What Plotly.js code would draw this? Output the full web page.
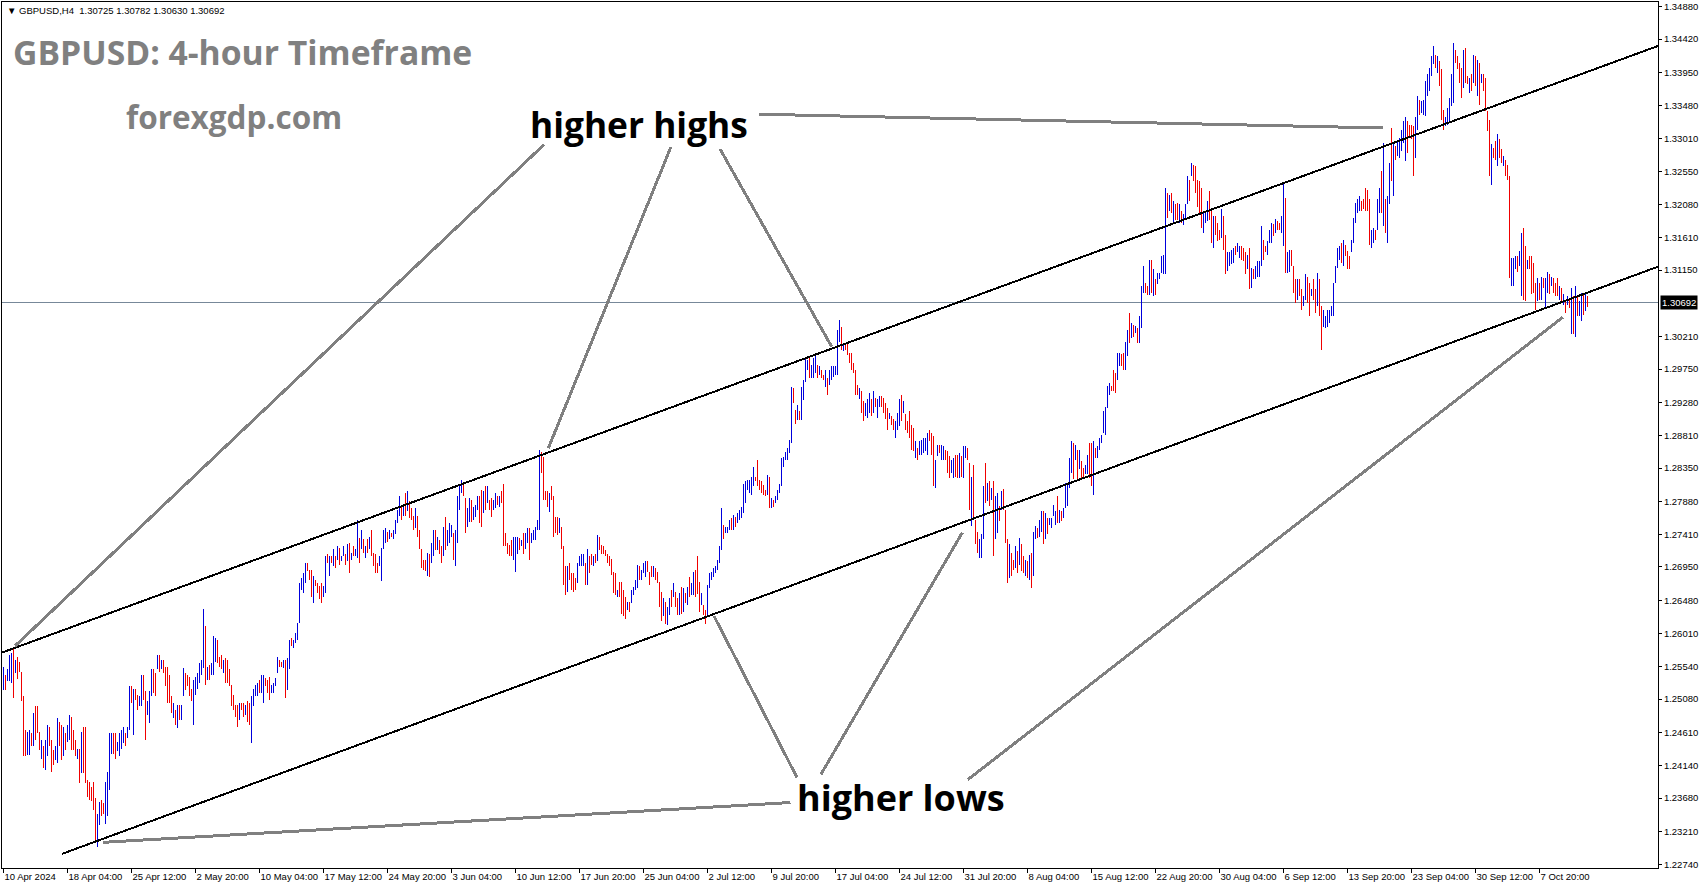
<!DOCTYPE html>
<html><head><meta charset="utf-8">
<script src="https://cdn.plot.ly/plotly-3.0.1.min.js"></script>
<style>
html,body{margin:0;padding:0;background:#fff;overflow:hidden}
#chart{width:1705px;height:888px}
#chart .ohlc path, #chart .shapelayer path{shape-rendering:crispEdges}
</style>
</head><body><div id="chart"></div>
<script>
// ---- data (GBPUSD H4, 10 Apr 2024 20:00 .. 11 Oct 2024 20:00) ----
const symbolInfo = "GBPUSD,H4";
const lastQuote = [1.30725, 1.30782, 1.30630, 1.30692]; // O H L C of the last bar
const firstOpen = 1.2530;

const high = [
1.2554,1.2542,1.2550,1.2571,1.2573,1.2579,1.2564,1.2568,1.2560,1.2546,
1.2512,1.2464,1.2462,1.2464,1.2460,1.2488,1.2498,1.2498,1.2462,1.2450,
1.2441,1.2450,1.2471,1.2469,1.2450,1.2436,1.2441,1.2481,1.2476,1.2471,
1.2469,1.2460,1.2471,1.2486,1.2483,1.2464,1.2450,1.2438,1.2438,1.2462,
1.2469,1.2469,1.2394,1.2391,1.2384,1.2391,1.2368,1.2346,1.2363,1.2365,
1.2361,1.2391,1.2405,1.2460,1.2460,1.2460,1.2460,1.2448,1.2460,1.2464,
1.2469,1.2460,1.2469,1.2526,1.2526,1.2523,1.2523,1.2514,1.2512,1.2542,
1.2542,1.2519,1.2505,1.2519,1.2550,1.2550,1.2545,1.2571,1.2571,1.2564,
1.2564,1.2554,1.2554,1.2542,1.2512,1.2502,1.2493,1.2500,1.2500,1.2500,
1.2552,1.2545,1.2542,1.2540,1.2523,1.2535,1.2540,1.2545,1.2559,1.2564,
1.2636,1.2611,1.2554,1.2557,1.2559,1.2597,1.2594,1.2592,1.2568,1.2571,
1.2564,1.2566,1.2564,1.2550,1.2528,1.2514,1.2500,1.2500,1.2502,1.2502,
1.2502,1.2500,1.2505,1.2502,1.2512,1.2523,1.2528,1.2531,1.2535,1.2542,
1.2542,1.2538,1.2535,1.2540,1.2528,1.2531,1.2538,1.2568,1.2564,1.2561,
1.2564,1.2564,1.2566,1.2592,1.2594,1.2592,1.2602,1.2616,1.2672,1.2680,
1.2687,1.2701,1.2701,1.2691,1.2691,1.2682,1.2677,1.2672,1.2668,1.2672,
1.2668,1.2710,1.2713,1.2710,1.2710,1.2720,1.2710,1.2724,1.2722,1.2710,
1.2724,1.2713,1.2727,1.2729,1.2715,1.2724,1.2720,1.2762,1.2736,1.2748,
1.2734,1.2724,1.2734,1.2738,1.2748,1.2715,1.2713,1.2701,1.2710,1.2722,
1.2748,1.2750,1.2745,1.2748,1.2743,1.2748,1.2762,1.2776,1.2795,1.2781,
1.2783,1.2800,1.2802,1.2788,1.2779,1.2767,1.2779,1.2767,1.2748,1.2720,
1.2705,1.2705,1.2715,1.2714,1.2729,1.2747,1.2747,1.2738,1.2733,1.2724,
1.2752,1.2766,1.2747,1.2757,1.2754,1.2743,1.2747,1.2795,1.2811,1.2818,
1.2811,1.2792,1.2778,1.2792,1.2790,1.2780,1.2783,1.2795,1.2795,1.2804,
1.2802,1.2809,1.2809,1.2790,1.2792,1.2790,1.2799,1.2795,1.2795,1.2802,
1.2813,1.2743,1.2729,1.2726,1.2733,1.2738,1.2738,1.2738,1.2736,1.2733,
1.2743,1.2743,1.2750,1.2750,1.2743,1.2747,1.2752,1.2762,1.2861,1.2858,
1.2851,1.2802,1.2802,1.2799,1.2809,1.2795,1.2766,1.2766,1.2764,1.2752,
1.2724,1.2696,1.2696,1.2700,1.2686,1.2686,1.2679,1.2700,1.2710,1.2714,
1.2714,1.2700,1.2721,1.2710,1.2714,1.2710,1.2714,1.2740,1.2738,1.2726,
1.2724,1.2719,1.2714,1.2710,1.2707,1.2688,1.2686,1.2662,1.2674,1.2674,
1.2662,1.2653,1.2646,1.2646,1.2662,1.2667,1.2677,1.2698,1.2696,1.2691,
1.2700,1.2703,1.2703,1.2688,1.2696,1.2696,1.2693,1.2688,1.2674,1.2660,
1.2651,1.2646,1.2639,1.2651,1.2662,1.2672,1.2660,1.2651,1.2658,1.2667,
1.2665,1.2658,1.2667,1.2681,1.2672,1.2688,1.2691,1.2710,1.2674,1.2658,
1.2641,1.2634,1.2670,1.2686,1.2688,1.2693,1.2696,1.2705,1.2724,1.2778,
1.2754,1.2752,1.2752,1.2762,1.2764,1.2769,1.2766,1.2771,1.2776,1.2780,
1.2813,1.2816,1.2818,1.2818,1.2823,1.2837,1.2823,1.2847,1.2818,1.2816,
1.2811,1.2804,1.2825,1.2823,1.2792,1.2790,1.2795,1.2804,1.2813,1.2849,
1.2851,1.2858,1.2863,1.2875,1.2950,1.2948,1.2917,1.2924,1.2915,1.2950,
1.2960,1.2990,1.2988,1.2993,1.2981,1.2990,1.2993,1.2981,1.2979,1.2974,
1.2967,1.2974,1.2962,1.2974,1.2979,1.2979,1.2979,1.3031,1.3045,1.3035,
1.3012,1.3012,1.3012,1.2998,1.2998,1.2984,1.2974,1.2953,1.2948,1.2944,
1.2930,1.2927,1.2932,1.2941,1.2932,1.2944,1.2934,1.2932,1.2937,1.2937,
1.2934,1.2927,1.2920,1.2913,1.2908,1.2904,1.2901,1.2913,1.2932,1.2939,
1.2930,1.2911,1.2901,1.2915,1.2896,1.2892,1.2873,1.2863,1.2873,1.2875,
1.2878,1.2878,1.2885,1.2889,1.2885,1.2880,1.2847,1.2868,1.2868,1.2868,
1.2866,1.2861,1.2859,1.2852,1.2847,1.2849,1.2854,1.2854,1.2856,1.2852,
1.2866,1.2866,1.2863,1.2842,1.2823,1.2840,1.2762,1.2745,1.2734,1.2741,
1.2809,1.2842,1.2814,1.2816,1.2807,1.2816,1.2795,1.2800,1.2781,1.2802,
1.2805,1.2776,1.2734,1.2727,1.2715,1.2705,1.2724,1.2717,1.2736,1.2727,
1.2710,1.2705,1.2703,1.2712,1.2715,1.2745,1.2753,1.2750,1.2762,1.2774,
1.2774,1.2771,1.2764,1.2764,1.2764,1.2783,1.2774,1.2795,1.2776,1.2774,
1.2778,1.2814,1.2814,1.2849,1.2873,1.2870,1.2868,1.2861,1.2861,1.2845,
1.2835,1.2840,1.2854,1.2870,1.2870,1.2873,1.2863,1.2866,1.2878,1.2882,
1.2915,1.2922,1.2951,1.2955,1.2951,1.2974,1.2970,1.2998,1.2998,1.2996,
1.2998,1.3014,1.3031,1.3054,1.3040,1.3038,1.3036,1.3033,1.3050,1.3092,
1.3121,1.3097,1.3092,1.3130,1.3130,1.3116,1.3102,1.3111,1.3111,1.3135,
1.3137,1.3231,1.3224,1.3222,1.3224,1.3213,1.3208,1.3210,1.3208,1.3198,
1.3194,1.3208,1.3248,1.3243,1.3267,1.3264,1.3262,1.3243,1.3241,1.3231,
1.3196,1.3198,1.3213,1.3227,1.3198,1.3191,1.3191,1.3182,1.3172,1.3201,
1.3191,1.3165,1.3140,1.3140,1.3144,1.3147,1.3149,1.3154,1.3149,1.3149,
1.3147,1.3140,1.3137,1.3147,1.3118,1.3116,1.3121,1.3128,1.3128,1.3177,
1.3158,1.3149,1.3156,1.3172,1.3182,1.3180,1.3187,1.3184,1.3182,1.3191,
1.3238,1.3217,1.3140,1.3144,1.3144,1.3121,1.3102,1.3102,1.3102,1.3088,
1.3078,1.3109,1.3106,1.3097,1.3088,1.3102,1.3088,1.3111,1.3102,1.3064,
1.3059,1.3050,1.3059,1.3059,1.3064,1.3097,1.3121,1.3147,1.3149,1.3154,
1.3158,1.3151,1.3142,1.3135,1.3158,1.3189,1.3210,1.3215,1.3220,1.3213,
1.3215,1.3231,1.3229,1.3215,1.3172,1.3175,1.3172,1.3215,1.3231,1.3255,
1.3295,1.3215,1.3220,1.3267,1.3316,1.3295,1.3290,1.3298,1.3302,1.3314,
1.3326,1.3331,1.3326,1.3321,1.3321,1.3319,1.3331,1.3361,1.3356,1.3354,
1.3356,1.3382,1.3392,1.3401,1.3418,1.3432,1.3420,1.3418,1.3411,1.3399,
1.3342,1.3331,1.3345,1.3359,1.3392,1.3437,1.3427,1.3418,1.3408,1.3401,
1.3427,1.3430,1.3389,1.3387,1.3392,1.3420,1.3418,1.3413,1.3408,1.3392,
1.3392,1.3387,1.3340,1.3328,1.3293,1.3288,1.3298,1.3307,1.3300,1.3286,
1.3276,1.3271,1.3264,1.3248,1.3132,1.3132,1.3135,1.3135,1.3142,1.3168,
1.3175,1.3149,1.3130,1.3135,1.3135,1.3125,1.3097,1.3104,1.3097,1.3106,
1.3104,1.3104,1.3113,1.3109,1.3106,1.3104,1.3097,1.3104,1.3092,1.3090,
1.3081,1.3073,1.3078,1.3073,1.3090,1.3078,1.3092,1.3078,1.3071,1.3083,
1.3081,1.3083,1.3078];

const low = [
1.2521,1.2521,1.2533,1.2533,1.2531,1.2509,1.2545,1.2536,1.2546,1.2505,
1.2427,1.2427,1.2429,1.2429,1.2441,1.2441,1.2450,1.2460,1.2436,1.2424,
1.2410,1.2408,1.2427,1.2441,1.2405,1.2415,1.2422,1.2417,1.2441,1.2422,
1.2427,1.2436,1.2448,1.2450,1.2436,1.2436,1.2427,1.2424,1.2389,1.2403,
1.2403,1.2389,1.2370,1.2365,1.2364,1.2351,1.2309,1.2299,1.2330,1.2342,
1.2346,1.2332,1.2342,1.2379,1.2431,1.2431,1.2424,1.2434,1.2427,1.2438,
1.2446,1.2441,1.2453,1.2464,1.2502,1.2457,1.2507,1.2493,1.2498,1.2498,
1.2507,1.2450,1.2486,1.2474,1.2512,1.2516,1.2512,1.2550,1.2547,1.2550,
1.2545,1.2526,1.2502,1.2502,1.2488,1.2481,1.2471,1.2467,1.2479,1.2479,
1.2512,1.2521,1.2526,1.2512,1.2505,1.2471,1.2514,1.2523,1.2531,1.2542,
1.2552,1.2528,1.2535,1.2535,1.2542,1.2542,1.2561,1.2559,1.2554,1.2550,
1.2545,1.2531,1.2531,1.2526,1.2498,1.2493,1.2483,1.2469,1.2479,1.2493,
1.2483,1.2486,1.2476,1.2471,1.2446,1.2498,1.2512,1.2512,1.2516,1.2516,
1.2502,1.2526,1.2516,1.2507,1.2516,1.2516,1.2526,1.2545,1.2554,1.2554,
1.2552,1.2509,1.2521,1.2550,1.2583,1.2580,1.2587,1.2592,1.2616,1.2663,
1.2658,1.2672,1.2689,1.2677,1.2653,1.2644,1.2668,1.2658,1.2649,1.2644,
1.2653,1.2658,1.2701,1.2682,1.2701,1.2696,1.2694,1.2705,1.2698,1.2703,
1.2710,1.2698,1.2703,1.2687,1.2705,1.2710,1.2710,1.2708,1.2701,1.2720,
1.2715,1.2708,1.2715,1.2720,1.2710,1.2696,1.2687,1.2687,1.2696,1.2675,
1.2720,1.2729,1.2731,1.2734,1.2738,1.2734,1.2741,1.2757,1.2767,1.2762,
1.2767,1.2767,1.2774,1.2764,1.2762,1.2748,1.2750,1.2738,1.2720,1.2694,
1.2691,1.2689,1.2682,1.2681,1.2700,1.2710,1.2719,1.2719,1.2714,1.2700,
1.2710,1.2719,1.2724,1.2729,1.2738,1.2705,1.2696,1.2729,1.2776,1.2799,
1.2795,1.2743,1.2752,1.2759,1.2759,1.2762,1.2766,1.2776,1.2757,1.2752,
1.2771,1.2776,1.2785,1.2776,1.2766,1.2776,1.2778,1.2783,1.2780,1.2785,
1.2724,1.2724,1.2714,1.2710,1.2710,1.2705,1.2688,1.2714,1.2719,1.2724,
1.2714,1.2721,1.2729,1.2705,1.2729,1.2733,1.2733,1.2747,1.2747,1.2828,
1.2790,1.2790,1.2780,1.2773,1.2790,1.2738,1.2743,1.2740,1.2743,1.2721,
1.2670,1.2655,1.2660,1.2677,1.2662,1.2660,1.2662,1.2672,1.2696,1.2696,
1.2696,1.2670,1.2670,1.2686,1.2698,1.2696,1.2700,1.2703,1.2719,1.2714,
1.2714,1.2710,1.2700,1.2696,1.2684,1.2658,1.2655,1.2653,1.2653,1.2629,
1.2625,1.2622,1.2634,1.2632,1.2644,1.2655,1.2662,1.2665,1.2677,1.2677,
1.2686,1.2681,1.2688,1.2670,1.2681,1.2681,1.2677,1.2672,1.2639,1.2618,
1.2625,1.2615,1.2613,1.2627,1.2639,1.2653,1.2639,1.2627,1.2627,1.2629,
1.2632,1.2644,1.2641,1.2653,1.2655,1.2655,1.2653,1.2657,1.2632,1.2641,
1.2627,1.2615,1.2625,1.2665,1.2677,1.2681,1.2686,1.2691,1.2700,1.2719,
1.2735,1.2743,1.2743,1.2747,1.2747,1.2747,1.2752,1.2757,1.2762,1.2764,
1.2771,1.2785,1.2804,1.2799,1.2797,1.2809,1.2816,1.2809,1.2804,1.2799,
1.2797,1.2795,1.2797,1.2778,1.2778,1.2780,1.2785,1.2790,1.2799,1.2809,
1.2837,1.2847,1.2847,1.2856,1.2870,1.2927,1.2898,1.2903,1.2903,1.2903,
1.2931,1.2957,1.2974,1.2962,1.2962,1.2962,1.2969,1.2962,1.2967,1.2962,
1.2960,1.2950,1.2939,1.2953,1.2960,1.2964,1.2967,1.2967,1.3014,1.3002,
1.3000,1.3002,1.2995,1.2983,1.2974,1.2970,1.2939,1.2939,1.2932,1.2913,
1.2901,1.2908,1.2906,1.2913,1.2908,1.2913,1.2922,1.2906,1.2922,1.2922,
1.2913,1.2904,1.2889,1.2904,1.2896,1.2889,1.2878,1.2889,1.2894,1.2901,
1.2913,1.2889,1.2885,1.2878,1.2861,1.2859,1.2849,1.2847,1.2854,1.2854,
1.2856,1.2859,1.2854,1.2873,1.2854,1.2809,1.2807,1.2852,1.2856,1.2847,
1.2847,1.2847,1.2828,1.2821,1.2828,1.2821,1.2823,1.2821,1.2821,1.2823,
1.2821,1.2849,1.2847,1.2776,1.2753,1.2762,1.2727,1.2715,1.2708,1.2708,
1.2734,1.2786,1.2788,1.2781,1.2790,1.2710,1.2734,1.2743,1.2760,1.2776,
1.2776,1.2729,1.2672,1.2679,1.2682,1.2691,1.2693,1.2686,1.2698,1.2689,
1.2686,1.2682,1.2679,1.2677,1.2665,1.2682,1.2734,1.2736,1.2738,1.2745,
1.2727,1.2734,1.2741,1.2755,1.2750,1.2767,1.2755,1.2757,1.2757,1.2760,
1.2764,1.2778,1.2781,1.2807,1.2828,1.2819,1.2847,1.2819,1.2833,1.2821,
1.2823,1.2826,1.2826,1.2821,1.2809,1.2797,1.2849,1.2849,1.2861,1.2870,
1.2885,1.2882,1.2920,1.2939,1.2944,1.2944,1.2941,1.2960,1.2979,1.2979,
1.2974,1.2974,1.2993,1.3012,1.3019,1.3021,1.3026,1.3012,1.3012,1.3033,
1.3083,1.3083,1.3080,1.3080,1.3083,1.3078,1.3080,1.3095,1.3102,1.3111,
1.3109,1.3109,1.3189,1.3198,1.3196,1.3182,1.3186,1.3186,1.3182,1.3182,
1.3179,1.3189,1.3208,1.3213,1.3248,1.3241,1.3224,1.3205,1.3196,1.3175,
1.3168,1.3182,1.3184,1.3186,1.3154,1.3147,1.3165,1.3156,1.3158,1.3161,
1.3144,1.3109,1.3114,1.3121,1.3123,1.3125,1.3137,1.3140,1.3132,1.3130,
1.3128,1.3109,1.3116,1.3088,1.3090,1.3102,1.3102,1.3106,1.3106,1.3121,
1.3130,1.3140,1.3137,1.3154,1.3154,1.3163,1.3168,1.3172,1.3172,1.3168,
1.3149,1.3111,1.3111,1.3113,1.3121,1.3083,1.3069,1.3073,1.3078,1.3059,
1.3064,1.3073,1.3069,1.3050,1.3078,1.3073,1.3055,1.3064,1.3050,1.3002,
1.3035,1.3033,1.3035,1.3040,1.3050,1.3050,1.3097,1.3118,1.3130,1.3125,
1.3121,1.3135,1.3116,1.3116,1.3140,1.3154,1.3182,1.3196,1.3198,1.3198,
1.3201,1.3198,1.3198,1.3151,1.3147,1.3154,1.3158,1.3172,1.3196,1.3196,
1.3177,1.3168,1.3154,1.3208,1.3241,1.3220,1.3271,1.3276,1.3274,1.3283,
1.3295,1.3269,1.3281,1.3305,1.3300,1.3248,1.3274,1.3314,1.3335,1.3338,
1.3335,1.3333,1.3361,1.3368,1.3389,1.3406,1.3401,1.3394,1.3375,1.3328,
1.3314,1.3319,1.3321,1.3323,1.3347,1.3352,1.3408,1.3399,1.3380,1.3359,
1.3373,1.3380,1.3378,1.3366,1.3368,1.3380,1.3375,1.3361,1.3349,1.3380,
1.3368,1.3340,1.3312,1.3248,1.3236,1.3274,1.3271,1.3262,1.3274,1.3267,
1.3262,1.3248,1.3243,1.3104,1.3092,1.3092,1.3116,1.3113,1.3121,1.3078,
1.3073,1.3071,1.3116,1.3116,1.3081,1.3083,1.3059,1.3071,1.3073,1.3073,
1.3090,1.3062,1.3083,1.3081,1.3092,1.3083,1.3078,1.3078,1.3073,1.3069,
1.3066,1.3055,1.3066,1.3062,1.3024,1.3024,1.3021,1.3050,1.3050,1.3043,
1.3052,1.3057,1.3063];

const close = [
1.2550,1.2530,1.2546,1.2566,1.2568,1.2552,1.2560,1.2548,1.2547,1.2510,
1.2432,1.2430,1.2455,1.2460,1.2445,1.2480,1.2462,1.2461,1.2440,1.2446,
1.2414,1.2445,1.2466,1.2446,1.2420,1.2418,1.2436,1.2476,1.2448,1.2430,
1.2462,1.2440,1.2466,1.2480,1.2445,1.2440,1.2430,1.2436,1.2395,1.2455,
1.2420,1.2395,1.2374,1.2368,1.2366,1.2355,1.2315,1.2340,1.2358,1.2350,
1.2347,1.2385,1.2400,1.2455,1.2458,1.2440,1.2430,1.2445,1.2455,1.2460,
1.2465,1.2445,1.2466,1.2520,1.2505,1.2515,1.2510,1.2496,1.2499,1.2538,
1.2512,1.2458,1.2500,1.2515,1.2547,1.2525,1.2520,1.2566,1.2552,1.2560,
1.2548,1.2530,1.2508,1.2505,1.2491,1.2498,1.2474,1.2496,1.2482,1.2495,
1.2548,1.2530,1.2528,1.2515,1.2508,1.2530,1.2536,1.2540,1.2555,1.2560,
1.2600,1.2545,1.2550,1.2540,1.2545,1.2590,1.2592,1.2565,1.2558,1.2553,
1.2560,1.2536,1.2535,1.2530,1.2502,1.2496,1.2487,1.2472,1.2498,1.2495,
1.2488,1.2497,1.2480,1.2475,1.2508,1.2520,1.2525,1.2528,1.2520,1.2538,
1.2539,1.2530,1.2520,1.2512,1.2525,1.2528,1.2535,1.2565,1.2562,1.2556,
1.2562,1.2515,1.2560,1.2588,1.2585,1.2590,1.2600,1.2612,1.2665,1.2677,
1.2684,1.2698,1.2691,1.2680,1.2657,1.2678,1.2670,1.2662,1.2652,1.2648,
1.2665,1.2705,1.2703,1.2707,1.2703,1.2716,1.2697,1.2720,1.2702,1.2708,
1.2721,1.2701,1.2724,1.2691,1.2712,1.2711,1.2717,1.2755,1.2705,1.2744,
1.2719,1.2721,1.2718,1.2722,1.2713,1.2699,1.2690,1.2689,1.2698,1.2718,
1.2745,1.2747,1.2734,1.2745,1.2740,1.2746,1.2758,1.2772,1.2790,1.2766,
1.2780,1.2771,1.2795,1.2768,1.2765,1.2751,1.2755,1.2741,1.2723,1.2697,
1.2694,1.2692,1.2712,1.2710,1.2725,1.2743,1.2722,1.2735,1.2718,1.2704,
1.2748,1.2725,1.2742,1.2752,1.2753,1.2710,1.2740,1.2790,1.2805,1.2812,
1.2798,1.2750,1.2755,1.2788,1.2762,1.2775,1.2780,1.2792,1.2762,1.2758,
1.2797,1.2780,1.2800,1.2787,1.2770,1.2778,1.2795,1.2792,1.2793,1.2788,
1.2728,1.2726,1.2717,1.2714,1.2712,1.2733,1.2736,1.2737,1.2722,1.2731,
1.2718,1.2740,1.2746,1.2710,1.2740,1.2744,1.2749,1.2760,1.2852,1.2832,
1.2795,1.2792,1.2784,1.2796,1.2791,1.2745,1.2744,1.2742,1.2746,1.2725,
1.2675,1.2660,1.2690,1.2680,1.2666,1.2664,1.2663,1.2697,1.2706,1.2710,
1.2712,1.2675,1.2716,1.2707,1.2701,1.2708,1.2703,1.2735,1.2722,1.2716,
1.2715,1.2712,1.2703,1.2698,1.2687,1.2661,1.2658,1.2661,1.2656,1.2633,
1.2628,1.2625,1.2643,1.2635,1.2660,1.2665,1.2675,1.2694,1.2680,1.2688,
1.2698,1.2701,1.2691,1.2686,1.2684,1.2693,1.2680,1.2675,1.2642,1.2622,
1.2628,1.2620,1.2635,1.2647,1.2642,1.2656,1.2643,1.2630,1.2654,1.2633,
1.2660,1.2647,1.2663,1.2656,1.2670,1.2685,1.2658,1.2657,1.2636,1.2655,
1.2638,1.2618,1.2666,1.2683,1.2686,1.2691,1.2694,1.2702,1.2720,1.2770,
1.2740,1.2750,1.2751,1.2760,1.2750,1.2765,1.2755,1.2769,1.2773,1.2778,
1.2808,1.2812,1.2815,1.2816,1.2820,1.2833,1.2821,1.2812,1.2806,1.2802,
1.2799,1.2796,1.2822,1.2782,1.2790,1.2789,1.2793,1.2802,1.2811,1.2845,
1.2848,1.2856,1.2860,1.2872,1.2940,1.2930,1.2915,1.2921,1.2913,1.2946,
1.2956,1.2985,1.2986,1.2966,1.2978,1.2986,1.2989,1.2966,1.2976,1.2972,
1.2962,1.2970,1.2943,1.2956,1.2976,1.2977,1.2978,1.3025,1.3040,1.3006,
1.3010,1.3004,1.2998,1.2986,1.2977,1.2972,1.2942,1.2940,1.2946,1.2916,
1.2905,1.2912,1.2928,1.2936,1.2912,1.2940,1.2925,1.2929,1.2934,1.2925,
1.2917,1.2907,1.2893,1.2911,1.2899,1.2892,1.2897,1.2910,1.2928,1.2905,
1.2915,1.2893,1.2888,1.2882,1.2865,1.2862,1.2870,1.2861,1.2870,1.2872,
1.2875,1.2876,1.2880,1.2876,1.2858,1.2815,1.2842,1.2865,1.2858,1.2864,
1.2865,1.2860,1.2831,1.2825,1.2843,1.2846,1.2827,1.2824,1.2852,1.2827,
1.2862,1.2864,1.2850,1.2780,1.2815,1.2768,1.2731,1.2718,1.2730,1.2737,
1.2805,1.2790,1.2810,1.2785,1.2803,1.2715,1.2740,1.2795,1.2777,1.2799,
1.2780,1.2733,1.2676,1.2722,1.2711,1.2694,1.2697,1.2690,1.2731,1.2693,
1.2689,1.2700,1.2683,1.2708,1.2670,1.2740,1.2750,1.2739,1.2758,1.2770,
1.2732,1.2767,1.2744,1.2757,1.2762,1.2770,1.2772,1.2760,1.2773,1.2772,
1.2776,1.2810,1.2812,1.2845,1.2869,1.2824,1.2850,1.2823,1.2836,1.2824,
1.2824,1.2837,1.2850,1.2826,1.2815,1.2868,1.2860,1.2864,1.2875,1.2880,
1.2911,1.2918,1.2947,1.2952,1.2946,1.2945,1.2943,1.2993,1.2995,1.2994,
1.2978,1.3010,1.3027,1.3016,1.3036,1.3024,1.3034,1.3015,1.3046,1.3088,
1.3116,1.3094,1.3082,1.3126,1.3088,1.3112,1.3099,1.3108,1.3109,1.3112,
1.3133,1.3222,1.3218,1.3220,1.3200,1.3208,1.3205,1.3190,1.3204,1.3185,
1.3191,1.3205,1.3242,1.3238,1.3263,1.3260,1.3228,1.3209,1.3200,1.3180,
1.3192,1.3196,1.3210,1.3190,1.3158,1.3186,1.3168,1.3160,1.3159,1.3196,
1.3148,1.3113,1.3135,1.3137,1.3141,1.3145,1.3139,1.3142,1.3146,1.3133,
1.3131,1.3112,1.3119,1.3092,1.3114,1.3104,1.3118,1.3125,1.3126,1.3172,
1.3155,1.3142,1.3153,1.3169,1.3178,1.3166,1.3184,1.3182,1.3180,1.3188,
1.3210,1.3118,1.3135,1.3140,1.3124,1.3087,1.3073,1.3098,1.3082,1.3063,
1.3066,1.3105,1.3073,1.3055,1.3086,1.3077,1.3058,1.3107,1.3054,1.3008,
1.3038,1.3046,1.3055,1.3056,1.3062,1.3093,1.3117,1.3143,1.3146,1.3129,
1.3154,1.3138,1.3120,1.3118,1.3155,1.3185,1.3206,1.3212,1.3217,1.3211,
1.3203,1.3200,1.3199,1.3155,1.3168,1.3172,1.3170,1.3210,1.3226,1.3200,
1.3250,1.3172,1.3215,1.3262,1.3245,1.3290,1.3286,1.3294,1.3298,1.3310,
1.3322,1.3326,1.3322,1.3318,1.3303,1.3252,1.3325,1.3356,1.3352,1.3353,
1.3354,1.3378,1.3388,1.3397,1.3414,1.3428,1.3404,1.3414,1.3379,1.3333,
1.3318,1.3328,1.3341,1.3355,1.3388,1.3430,1.3424,1.3402,1.3384,1.3363,
1.3422,1.3384,1.3380,1.3384,1.3371,1.3416,1.3379,1.3408,1.3353,1.3389,
1.3372,1.3344,1.3316,1.3252,1.3288,1.3276,1.3273,1.3302,1.3278,1.3270,
1.3274,1.3251,1.3246,1.3108,1.3128,1.3129,1.3132,1.3116,1.3138,1.3160,
1.3080,1.3076,1.3127,1.3119,1.3085,1.3084,1.3063,1.3100,1.3077,1.3102,
1.3092,1.3100,1.3110,1.3085,1.3104,1.3087,1.3081,1.3080,1.3088,1.3072,
1.3079,1.3058,1.3075,1.3065,1.3085,1.3030,1.3088,1.3054,1.3068,1.3080,
1.3056,1.3072,1.3069];

// time-axis labels (one every 32 H4 bars, first label at bar 0)
const xLabels = ["10 Apr 2024","18 Apr 04:00","25 Apr 12:00","2 May 20:00","10 May 04:00",
  "17 May 12:00","24 May 20:00","3 Jun 04:00","10 Jun 12:00","17 Jun 20:00","25 Jun 04:00",
  "2 Jul 12:00","9 Jul 20:00","17 Jul 04:00","24 Jul 12:00","31 Jul 20:00","8 Aug 04:00",
  "15 Aug 12:00","22 Aug 20:00","30 Aug 04:00","6 Sep 12:00","13 Sep 20:00","23 Sep 04:00",
  "30 Sep 12:00","7 Oct 20:00"];
const barsPerLabel = 32;
// price-axis labels
const yTicks = [1.34880,1.34420,1.33950,1.33480,1.33010,1.32550,1.32080,1.31610,1.31150,
  1.30210,1.29750,1.29280,1.28810,1.28350,1.27880,1.27410,1.26950,1.26480,1.26010,
  1.25540,1.25080,1.24610,1.24140,1.23680,1.23210,1.22740];

// channel lines and pointer lines: [bar, price] end points
const upperChannel = [[-0.75, 1.25739], [827.25, 1.34322]];
const lowerChannel = [[29.1, 1.22889], [827.25, 1.31199]];
const highPointers = [
  [[270.25, 1.32926], [5.75, 1.25832]],
  [[333.75, 1.32895], [272.4, 1.28629]],
  [[358.25, 1.32864], [414.1, 1.30067]],
  [[377.75, 1.33356], [689.9, 1.33161]]
];
const lowPointers = [
  [[393.5, 1.23617], [49.9, 1.23054]],
  [[396.75, 1.23971], [355.25, 1.26256]],
  [[408.75, 1.24018], [479.4, 1.27435]],
  [[482.15, 1.23940], [779.6, 1.30482]]
];

// ---- drawing ----
const barIndex = close.map((_, i) => i);
const open = [firstOpen].concat(close.slice(0, -1)); // FX bars open at the previous close

const W = 1705, H = 888, ML = 2, MR = 47, MT = 2, MB = 20;
const PW = W - ML - MR, PH = H - MT - MB;
const px = x => (x - ML) / PW;
const py = y => (H - MB - y) / PH;

const axisFont = {family: 'Liberation Sans, Arial, sans-serif', size: 9.5, color: '#000'};

function seg(p, color, width) {
  return {type: 'line', xref: 'x', yref: 'y', x0: p[0][0], y0: p[0][1], x1: p[1][0], y1: p[1][1],
    line: {color: color, width: width}, layer: 'above'};
}

const shapes = [
  {type: 'line', xref: 'paper', yref: 'y', x0: 0, x1: 1, y0: lastQuote[3], y1: lastQuote[3],
   line: {color: '#778899', width: 1}, layer: 'below'},
  seg(upperChannel, '#000', 2),
  seg(lowerChannel, '#000', 2)
];
highPointers.concat(lowPointers).forEach(p => shapes.push(seg(p, '#808080', 3)));

const nb = '\u00a0';
const annotations = [
  {xref: 'paper', yref: 'paper', x: px(5), y: py(10.5), xanchor: 'left', yanchor: 'middle',
   text: '\u25BC' + nb + symbolInfo + nb + nb + lastQuote.map(v => v.toFixed(5)).join(nb),
   showarrow: false, font: axisFont},
  {xref: 'paper', yref: 'paper', x: px(11), y: py(52), xanchor: 'left', yanchor: 'middle',
   text: 'GBPUSD: 4-hour Timeframe', showarrow: false,
   font: {family: 'Open Sans, sans-serif', size: 33.7, color: '#808080', weight: 700}},
  {xref: 'paper', yref: 'paper', x: px(124), y: py(116), xanchor: 'left', yanchor: 'middle',
   text: 'forexgdp.com', showarrow: false,
   font: {family: 'Open Sans, sans-serif', size: 31.5, color: '#808080', weight: 700}},
  {xref: 'paper', yref: 'paper', x: px(528), y: py(124), xanchor: 'left', yanchor: 'middle',
   text: 'higher highs', showarrow: false,
   font: {family: 'Open Sans, sans-serif', size: 35.3, color: '#000', weight: 700}},
  {xref: 'paper', yref: 'paper', x: px(795), y: py(797), xanchor: 'left', yanchor: 'middle',
   text: 'higher lows', showarrow: false,
   font: {family: 'Open Sans, sans-serif', size: 36, color: '#000', weight: 700}},
  {xref: 'paper', yref: 'y', x: 1, y: lastQuote[3], xanchor: 'left', yanchor: 'middle', xshift: 2,
   text: lastQuote[3].toFixed(5), showarrow: false, bgcolor: '#000', borderpad: 1,
   font: {family: axisFont.family, size: 9.5, color: '#fff'}}
];

const trace = {
  type: 'ohlc', x: barIndex, open: open, high: high, low: low, close: close,
  increasing: {line: {color: '#0000dc', width: 1}},
  decreasing: {line: {color: '#f00000', width: 1}},
  tickwidth: 0, hoverinfo: 'skip', showlegend: false
};

const yMax = 1.34944, pxPrice = 0.000141492;
const layout = {
  width: W, height: H,
  margin: {l: ML, r: MR, t: MT, b: MB, pad: 0},
  paper_bgcolor: '#fff', plot_bgcolor: '#fff', showlegend: false,
  xaxis: {
    range: [-0.75, -0.75 + PW / 2], fixedrange: true,
    tickvals: xLabels.map((_, k) => k * barsPerLabel), ticktext: xLabels,
    ticks: 'outside', ticklen: 4, tickwidth: 1, tickcolor: '#000', tickangle: 0,
    ticklabelposition: 'outside right', tickfont: axisFont,
    showgrid: false, zeroline: false, showline: true, mirror: true, linecolor: '#000', linewidth: 1,
    rangeslider: {visible: false}
  },
  yaxis: {
    range: [yMax - PH * pxPrice, yMax], fixedrange: true, side: 'right',
    tickvals: yTicks, ticktext: yTicks.map(v => v.toFixed(5)),
    ticks: 'outside', ticklen: 3, tickwidth: 1, tickcolor: '#000', tickfont: axisFont,
    showgrid: false, zeroline: false, showline: true, mirror: true, linecolor: '#000', linewidth: 1
  },
  shapes: shapes,
  annotations: annotations
};

Plotly.newPlot('chart', [trace], layout, {staticPlot: true, displayModeBar: false});
</script>
</body></html>
